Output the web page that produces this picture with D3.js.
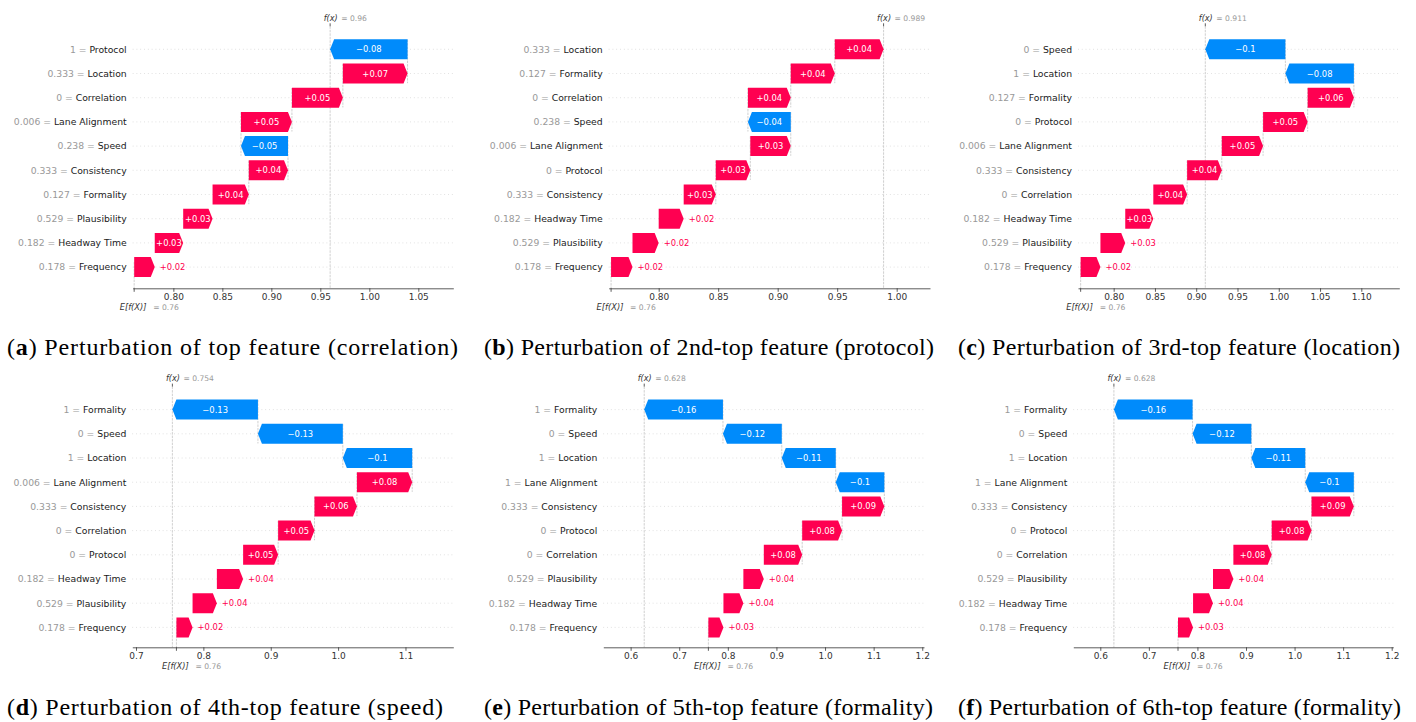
<!DOCTYPE html>
<html lang="en">
<head>
<meta charset="UTF-8">
<title>SHAP waterfall - perturbation of top features</title>
<script src="https://d3js.org/d3.v7.min.js"></script>
<style>
body{margin:0;background:#fff;}
text{font-family:"DejaVu Sans",sans-serif;}
.cap{font-family:"Liberation Serif","Times New Roman",serif;}
</style>
</head>
<body>
<svg id="chart" width="1416" height="722"></svg>
<script>
// expected value shared by all six explanations
var baseValue = 0.76;

// (a) top feature (correlation)
var featuresA = ['Protocol','Location','Correlation','Lane Alignment','Speed','Consistency','Formality','Plausibility','Headway Time','Frequency'];
var featValsA = [1,0.333,0,0.006,0.238,0.333,0.127,0.529,0.182,0.178];
var shapA = [-0.079,0.066,0.052,0.052,-0.048,0.040,0.037,0.030,0.029,0.021];
var ticksA = [0.80,0.85,0.90,0.95,1.00,1.05];
var domainA = [0.7585,1.0857];

// (b) 2nd-top feature (protocol)
var featuresB = ['Location','Formality','Correlation','Speed','Lane Alignment','Protocol','Consistency','Headway Time','Plausibility','Frequency'];
var featValsB = [0.333,0.127,0,0.238,0.006,0,0.333,0.182,0.529,0.178];
var shapB = [0.041,0.037,0.036,-0.036,0.034,0.029,0.027,0.021,0.022,0.018];
var ticksB = [0.80,0.85,0.90,0.95,1.00];
var domainB = [0.758,1.028];

// (c) 3rd-top feature (location)
var featuresC = ['Speed','Location','Formality','Protocol','Lane Alignment','Consistency','Correlation','Headway Time','Plausibility','Frequency'];
var featValsC = [0,1,0.127,0,0.006,0.333,0,0.182,0.529,0.178];
var shapC = [-0.097,-0.083,0.056,0.054,0.050,0.042,0.041,0.034,0.030,0.024];
var ticksC = [0.80,0.85,0.90,0.95,1.00,1.05,1.10];
var domainC = [0.7568,1.146];

// (d) 4th-top feature (speed)
var featuresD = ['Formality','Speed','Location','Lane Alignment','Consistency','Correlation','Protocol','Headway Time','Plausibility','Frequency'];
var featValsD = [1,0,1,0.006,0.333,0,0,0.182,0.529,0.178];
var shapD = [-0.127,-0.126,-0.103,0.082,0.063,0.054,0.052,0.039,0.036,0.024];
var ticksD = [0.7,0.8,0.9,1.0,1.1];
var domainD = [0.6945,1.171];

// (e) 5th-top feature (formality)
var featuresE = ['Formality','Speed','Location','Lane Alignment','Consistency','Protocol','Correlation','Plausibility','Headway Time','Frequency'];
var featValsE = [1,0,1,1,0.333,0,0,0.529,0.182,0.178];
var shapE = [-0.162,-0.121,-0.111,-0.100,0.087,0.082,0.079,0.042,0.041,0.031];
var ticksE = [0.6,0.7,0.8,0.9,1.0,1.1,1.2];
var domainE = [0.5438,1.2036];

// (f) 6th-top feature (formality)
var featuresF = ['Formality','Speed','Location','Lane Alignment','Consistency','Protocol','Correlation','Plausibility','Headway Time','Frequency'];
var featValsF = [1,0,1,1,0.333,0,0,0.529,0.182,0.178];
var shapF = [-0.162,-0.121,-0.111,-0.100,0.087,0.082,0.079,0.042,0.041,0.031];
var ticksF = [0.6,0.7,0.8,0.9,1.0,1.1,1.2];
var domainF = [0.5444,1.2033];

var captionLetters = ['a','b','c','d','e','f'];
var captionTexts = [
  ' Perturbation of top feature (correlation)',
  ' Perturbation of 2nd-top feature (protocol)',
  ' Perturbation of 3rd-top feature (location)',
  ' Perturbation of 4th-top feature (speed)',
  ' Perturbation of 5th-top feature (formality)',
  ' Perturbation of 6th-top feature (formality)'
];

var panels = [
  {features:featuresA, vals:featValsA, shap:shapA, ticks:ticksA, domain:domainA, fmt:'.2f'},
  {features:featuresB, vals:featValsB, shap:shapB, ticks:ticksB, domain:domainB, fmt:'.2f'},
  {features:featuresC, vals:featValsC, shap:shapC, ticks:ticksC, domain:domainC, fmt:'.2f'},
  {features:featuresD, vals:featValsD, shap:shapD, ticks:ticksD, domain:domainD, fmt:'.1f'},
  {features:featuresE, vals:featValsE, shap:shapE, ticks:ticksE, domain:domainE, fmt:'.1f'},
  {features:featuresF, vals:featValsF, shap:shapF, ticks:ticksF, domain:domainF, fmt:'.1f'}
];

// layout of each panel (pixels)
var boxes = [
  {left:132.7, right:453.3, y0:49.3, axisY:288.3, capX:7, capY:354.5, capW:451},
  {left:608.7, right:930, y0:49.3, axisY:288.3, capX:484, capY:354.5, capW:450},
  {left:1078, right:1399.3, y0:49.3, axisY:288.3, capX:958, capY:354.5, capW:442},
  {left:132.3, right:453.3, y0:409.6, axisY:647.3, capX:7, capY:714.5, capW:436},
  {left:603.3, right:924, y0:409.6, axisY:647.3, capX:484, capY:714.5, capW:449},
  {left:1073.3, right:1393.3, y0:409.6, axisY:647.3, capX:958, capY:714.5, capW:443}
];

var rowStep = 24.2;
var barH = 20;
var headLen = 4;
var red = '#ff0051', blue = '#008bfb';

// shap style number format: strip trailing zeros, real minus sign
function fmtVal(v, digits) {
  var s = v.toFixed(digits).replace(/\.?0+$/, '');
  if (s === '' || s === '-') s = '0';
  if (s[0] === '-') s = '\u2212' + s.slice(1);
  return s;
}
function fmtShap(v) {
  var s = fmtVal(Math.abs(v), 2);
  return (v < 0 ? '\u2212' : '+') + s;
}

var svg = d3.select('#chart');

panels.forEach(function (p, k) {
  var b = boxes[k];
  var n = p.features.length;
  var g = svg.append('g');

  var x = d3.scaleLinear().domain(p.domain).range([b.left, b.right]);
  var y = d3.scaleLinear().domain([0, n - 1]).range([b.y0, b.y0 + (n - 1) * rowStep]);
  var top = b.y0 - 0.95 * rowStep;

  // cumulative positions, building up from the bottom row
  var starts = new Array(n), ends = new Array(n);
  var acc = baseValue;
  for (var i = n - 1; i >= 0; i--) {
    starts[i] = acc;
    acc += p.shap[i];
    ends[i] = acc;
  }
  var fx = acc;

  // dotted row lines
  g.selectAll('.grid').data(p.features).enter().append('line')
    .attr('x1', b.left).attr('x2', b.right)
    .attr('y1', function (d, i) { return y(i); })
    .attr('y2', function (d, i) { return y(i); })
    .attr('stroke', '#cccccc').attr('stroke-width', 0.7)
    .attr('stroke-dasharray', '0.8,3');

  // f(x) and E[f(X)] reference lines
  g.append('line')
    .attr('x1', x(fx)).attr('x2', x(fx)).attr('y1', top).attr('y2', b.axisY)
    .attr('stroke', '#bbbbbb').attr('stroke-width', 0.7).attr('stroke-dasharray', '2.5,1');
  g.append('line')
    .attr('x1', x(baseValue)).attr('x2', x(baseValue))
    .attr('y1', b.axisY - (b.axisY - top) / n).attr('y2', b.axisY)
    .attr('stroke', '#bbbbbb').attr('stroke-width', 0.7).attr('stroke-dasharray', '2.5,1');

  // connectors between consecutive bars (top rows only, as shap does)
  for (var j = 0; j < n - 4; j++) {
    g.append('line')
      .attr('x1', x(starts[j])).attr('x2', x(starts[j]))
      .attr('y1', y(j) - 0.4 * rowStep).attr('y2', y(j + 1) + 0.4 * rowStep)
      .attr('stroke', '#bbbbbb').attr('stroke-width', 0.7).attr('stroke-dasharray', '2.5,1');
  }

  // arrow-shaped bars
  g.selectAll('.bar').data(p.shap).enter().append('path')
    .attr('fill', function (d) { return d >= 0 ? red : blue; })
    .attr('d', function (d, i) {
      var x0 = x(starts[i]), x1 = x(ends[i]), cy = y(i), h = barH / 2;
      var dir = x1 >= x0 ? 1 : -1;
      var hl = Math.min(Math.abs(x1 - x0), headLen);
      var xb = x1 - dir * hl;
      return 'M' + x0 + ',' + (cy - h) + 'L' + xb + ',' + (cy - h) + 'L' + x1 + ',' + cy +
        'L' + xb + ',' + (cy + h) + 'L' + x0 + ',' + (cy + h) + 'Z';
    });

  // value labels, inside the bar when they fit
  p.shap.forEach(function (d, i) {
    var x0 = x(starts[i]), x1 = x(ends[i]), cy = y(i);
    var t = g.append('text')
      .attr('font-size', '8.4px')
      .attr('y', cy + 3)
      .text(fmtShap(d));
    var w = t.node().getComputedTextLength();
    if (Math.abs(x1 - x0) > w + 1.5) {
      t.attr('x', (x0 + x1) / 2).attr('text-anchor', 'middle').attr('fill', '#ffffff');
    } else if (d >= 0) {
      t.attr('x', x1 + 5).attr('text-anchor', 'start').attr('fill', red);
    } else {
      t.attr('x', x1 - 5).attr('text-anchor', 'end').attr('fill', blue);
    }
  });

  // feature labels "value = name"
  var lab = g.selectAll('.lab').data(p.features).enter().append('text')
    .attr('x', b.left - 6)
    .attr('y', function (d, i) { return y(i) + 3.3; })
    .attr('text-anchor', 'end')
    .attr('font-size', '9.25px');
  lab.append('tspan').attr('fill', '#999999')
    .text(function (d, i) { return fmtVal(p.vals[i], 3) + ' = '; });
  lab.append('tspan').attr('fill', '#1a1a1a')
    .text(function (d) { return d; });

  // bottom axis
  var axis = d3.axisBottom(x).tickValues(p.ticks).tickFormat(d3.format(p.fmt))
    .tickSizeInner(3.5).tickSizeOuter(0).tickPadding(2);
  var ax = g.append('g').attr('transform', 'translate(0,' + b.axisY + ')').call(axis);
  ax.select('.domain').attr('stroke', '#333333').attr('stroke-width', 0.8);
  ax.selectAll('.tick line').attr('stroke', '#333333').attr('stroke-width', 0.8);
  ax.selectAll('.tick text').attr('fill', '#333333').attr('font-size', '9px')
    .attr('font-family', '"DejaVu Sans",sans-serif');

  // base tick and E[f(X)] label
  g.append('line').attr('x1', x(baseValue)).attr('x2', x(baseValue))
    .attr('y1', b.axisY).attr('y2', b.axisY + 3.5)
    .attr('stroke', '#333333').attr('stroke-width', 0.8);
  g.append('text').attr('x', x(baseValue) - 14.5).attr('y', b.axisY + 21.5)
    .attr('font-size', '8.3px').attr('font-style', 'italic').attr('fill', '#333333')
    .text('E[f(X)]');
  g.append('text').attr('x', x(baseValue) + 19).attr('y', b.axisY + 21.5)
    .attr('font-size', '7.6px').attr('fill', '#999999')
    .text('= ' + fmtVal(baseValue, 3));

  // top tick and f(x) label
  g.append('line').attr('x1', x(fx)).attr('x2', x(fx))
    .attr('y1', top - 3).attr('y2', top)
    .attr('stroke', '#333333').attr('stroke-width', 0.8);
  g.append('text').attr('x', x(fx) - 6.5).attr('y', top - 5.6)
    .attr('font-size', '8.1px').attr('font-style', 'italic').attr('fill', '#333333')
    .text('f(x)');
  g.append('text').attr('x', x(fx) + 11).attr('y', top - 5.6)
    .attr('font-size', '7.6px').attr('fill', '#999999')
    .text('= ' + fmtVal(fx, 3));

  // caption
  var cap = svg.append('text').attr('class', 'cap')
    .attr('x', b.capX).attr('y', b.capY)
    .attr('font-size', '24px').attr('fill', '#000')
    .attr('textLength', b.capW).attr('lengthAdjust', 'spacing');
  cap.append('tspan').text('(');
  cap.append('tspan').attr('font-weight', 'bold').text(captionLetters[k]);
  cap.append('tspan').text(')' + captionTexts[k]);
});
</script>
</body>
</html>
